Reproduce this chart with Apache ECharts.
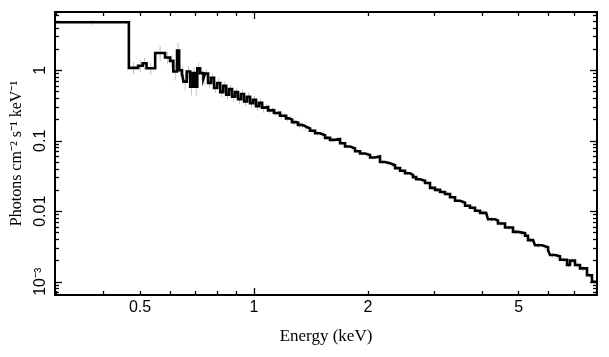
<!DOCTYPE html>
<html><head><meta charset="utf-8">
<script src="https://cdn.jsdelivr.net/npm/echarts@6/dist/echarts.min.js"></script>
<style>html,body{margin:0;padding:0;background:#fff}#c{width:609px;height:357px}</style>
</head><body><div id="c"></div>
<script>
// ---- data ----
const binEdges = [
  0.298, 0.467, 0.494, 0.508, 0.520, 0.548, 0.582, 0.600, 0.612, 0.626,
  0.634, 0.645, 0.651, 0.664, 0.678, 0.689, 0.699, 0.708, 0.720, 0.735,
  0.742, 0.756, 0.770, 0.784, 0.799, 0.814, 0.829, 0.844, 0.859, 0.875,
  0.891, 0.907, 0.924, 0.941, 0.958, 0.976, 0.994, 1.012, 1.031, 1.050,
  1.069, 1.089, 1.109, 1.129, 1.150, 1.171, 1.193, 1.215, 1.237, 1.260,
  1.283, 1.307, 1.331, 1.355, 1.380, 1.406, 1.449, 1.494, 1.540, 1.587,
  1.636, 1.687, 1.739, 1.793, 1.848, 1.905, 1.964, 2.025, 2.087, 2.151,
  2.218, 2.286, 2.357, 2.430, 2.505, 2.582, 2.630, 2.680, 2.744, 2.829,
  2.916, 3.006, 3.099, 3.194, 3.293, 3.395, 3.500, 3.608, 3.719, 3.834,
  3.953, 4.100, 4.150, 4.330, 4.409, 4.601, 4.830, 4.979, 5.196, 5.291,
  5.455, 5.521, 5.762, 5.976, 6.049, 6.236, 6.428, 6.708, 6.831, 7.042,
  7.259, 7.575, 7.808, 8.05
];
const fluxValues = [
  4.8, 1.08, 1.16, 1.26, 1.07, 1.76, 1.52, 1.36, 0.96, 1.9,
  1.0, 0.91, 0.69, 0.96, 0.585, 0.91, 0.585, 1.07, 0.91, 0.77,
  0.90, 0.66, 0.78, 0.56, 0.66, 0.49, 0.60, 0.45, 0.54, 0.42,
  0.49, 0.39, 0.46, 0.36, 0.42, 0.34, 0.38, 0.31, 0.345, 0.295,
  0.30, 0.27, 0.272, 0.248, 0.25, 0.226, 0.226, 0.208, 0.20, 0.184,
  0.181, 0.168, 0.165, 0.155, 0.150, 0.139, 0.128, 0.120, 0.110, 0.103,
  0.106, 0.092, 0.083, 0.078, 0.071, 0.066, 0.063, 0.058, 0.060, 0.050,
  0.048, 0.045, 0.041, 0.0375, 0.0346, 0.0328, 0.0305, 0.0285, 0.0271, 0.0252,
  0.0215, 0.0201, 0.0188, 0.0176, 0.0158, 0.0141, 0.0133, 0.0120, 0.0112, 0.0102,
  0.0095, 0.0089, 0.0077, 0.0074, 0.0067, 0.0059, 0.0051, 0.0049, 0.0045, 0.0039,
  0.0037, 0.0033, 0.0031, 0.0028, 0.0024, 0.0023, 0.00205, 0.00173, 0.00200, 0.00173,
  0.00155, 0.00124, 0.00100
];
const errFrac = [
  0.08, 0.2, 0.2, 0.2, 0.2, 0.25, 0.2, 0.2, 0.25, 0.3,
  0.2, 0.25, 0.25, 0.2, 0.25, 0.2, 0.25, 0.2, 0.2, 0.2,
  0.15, 0.15, 0.15, 0.15, 0.15, 0.15, 0.15, 0.15, 0.15, 0.15,
  0.15, 0.15, 0.15, 0.15, 0.15, 0.15, 0.15, 0.15, 0.15, 0.15,
  0.1, 0.1, 0.1, 0.1, 0.1, 0.1, 0.1, 0.1, 0.1, 0.1,
  0.1, 0.1, 0.1, 0.1, 0.1, 0.06, 0.06, 0.06, 0.06, 0.06,
  0.06, 0.06, 0.06, 0.06, 0.06, 0.06, 0.06, 0.06, 0.06, 0.06,
  0.06, 0.06, 0.06, 0.06, 0.06, 0.06, 0.06, 0.06, 0.06, 0.06,
  0.06, 0.06, 0.06, 0.06, 0.06, 0.06, 0.06, 0.06, 0.06, 0.06,
  0.08, 0.08, 0.08, 0.08, 0.08, 0.08, 0.08, 0.08, 0.08, 0.08,
  0.08, 0.08, 0.08, 0.08, 0.08, 0.08, 0.08, 0.08, 0.08, 0.08,
  0.08, 0.08, 0.08
];
const xRange = [0.298, 8.05];
const yRange = [6.5e-4, 6.7];
const xTickValues = [0.5, 1, 2, 5];
const xTickLabels = ['0.5', '1', '2', '5'];
const xMajorTicks = [1];
const xMinorTicks = [0.3, 0.4, 0.5, 0.6, 0.7, 0.8, 0.9, 2, 3, 4, 5, 6, 7, 8];
const yTickValues = [0.001, 0.01, 0.1, 1];
const yTickLabels = ['10⁻³', '0.01', '0.1', '1'];
const yMajorTicks = [0.001, 0.01, 0.1, 1];
const yMinorTicks = [7e-4, 8e-4, 9e-4, 0.002, 0.003, 0.004, 0.005, 0.006, 0.007, 0.008, 0.009,
  0.02, 0.03, 0.04, 0.05, 0.06, 0.07, 0.08, 0.09, 0.2, 0.3, 0.4, 0.5, 0.6, 0.7, 0.8, 0.9,
  2, 3, 4, 5, 6];
const xTitle = 'Energy (keV)';
const yTitle = 'Photons cm⁻² s⁻¹ keV⁻¹';

// ---- build ----
const N = fluxValues.length;
if (binEdges.length !== N + 1 || errFrac.length !== N) console.error('length mismatch');
const stepData = [];
for (let i = 0; i < N; i++) stepData.push([binEdges[i], fluxValues[i]]);
stepData.push([binEdges[N], fluxValues[N - 1]]);
const errData = [];
for (let i = 0; i < N; i++) {
  const c = Math.sqrt(binEdges[i] * binEdges[i + 1]);
  errData.push([c, fluxValues[i] * (1 - errFrac[i]), fluxValues[i] * (1 + errFrac[i])]);
}
const L = v => Math.log10(v);
const sansFont = "'Liberation Sans', Arial, Helvetica, sans-serif";
const serifFont = "'Liberation Serif', 'Times New Roman', serif";
const black = '#000';

function labelFor(vals, labs) {
  return function (v) {
    let best = 0, bd = Infinity;
    vals.forEach((t, i) => { const d = Math.abs(L(t) - v); if (d < bd) { bd = d; best = i; } });
    return labs[best];
  };
}
function tickAxis(dir, pos, ticks, len, opts) {
  const range = dir === 'x' ? xRange : yRange;
  const a = {
    type: 'value', position: pos, min: L(range[0]), max: L(range[1]),
    axisLine: { show: false, onZero: false },
    splitLine: { show: false },
    axisTick: { show: true, inside: true, length: len, customValues: ticks.map(L),
      lineStyle: { color: black, width: 1.3 } },
    axisLabel: { show: false },
    z: 5
  };
  return Object.assign(a, opts || {});
}

const xLabelOpts = {
  axisLabel: { show: true, customValues: xTickValues.map(L), formatter: labelFor(xTickValues, xTickLabels),
    color: black, fontFamily: sansFont, fontSize: 16, margin: 5 },
  name: xTitle, nameLocation: 'middle', nameGap: 42,
  nameTextStyle: { color: black, fontFamily: serifFont, fontSize: 17, verticalAlign: 'middle' }
};
const yLabelOpts = {
  axisLabel: { show: true, customValues: yTickValues.map(L), formatter: labelFor(yTickValues, yTickLabels),
    rotate: 90, color: black, fontFamily: sansFont, fontSize: 16, margin: 6 },
  name: yTitle, nameLocation: 'middle', nameGap: 35, nameRotate: 90,
  nameTextStyle: { color: black, fontFamily: serifFont, fontSize: 16, verticalAlign: 'middle' }
};

const option = {
  animation: false,
  backgroundColor: '#fff',
  grid: { left: 55, right: 12, top: 12, bottom: 62, containLabel: false },
  xAxis: [
    { type: 'log', logBase: 10, min: xRange[0], max: xRange[1], position: 'bottom',
      axisLine: { show: true, onZero: false, lineStyle: { color: black, width: 2 } },
      axisTick: { show: false }, axisLabel: { show: false }, splitLine: { show: false }, z: 6 },
    tickAxis('x', 'bottom', xMajorTicks, 7, xLabelOpts),
    tickAxis('x', 'bottom', xMinorTicks, 4),
    tickAxis('x', 'top', xMajorTicks, 7, { axisLine: { show: true, onZero: false, lineStyle: { color: black, width: 2 } } }),
    tickAxis('x', 'top', xMinorTicks, 4)
  ],
  yAxis: [
    { type: 'log', logBase: 10, min: yRange[0], max: yRange[1], position: 'left',
      axisLine: { show: true, onZero: false, lineStyle: { color: black, width: 2 } },
      axisTick: { show: false }, axisLabel: { show: false }, splitLine: { show: false }, z: 6 },
    tickAxis('y', 'left', yMajorTicks, 7, yLabelOpts),
    tickAxis('y', 'left', yMinorTicks, 4),
    tickAxis('y', 'right', yMajorTicks, 7, { axisLine: { show: true, onZero: false, lineStyle: { color: black, width: 2 } } }),
    tickAxis('y', 'right', yMinorTicks, 4)
  ],
  series: [
    {
      type: 'custom', xAxisIndex: 0, yAxisIndex: 0, clip: true, silent: true, z: 1,
      data: errData,
      renderItem: function (params, api) {
        const p1 = api.coord([api.value(0), api.value(1)]);
        const p2 = api.coord([api.value(0), api.value(2)]);
        return { type: 'line', shape: { x1: p1[0], y1: p1[1], x2: p2[0], y2: p2[1] },
          style: { stroke: '#c4c4c4', lineWidth: 1 } };
      }
    },
    {
      type: 'line', xAxisIndex: 0, yAxisIndex: 0, step: 'end', data: stepData,
      showSymbol: false, symbol: 'none', clip: true, z: 3,
      lineStyle: { color: black, width: 2.6, join: 'miter' }
    }
  ]
};
const chart = echarts.init(document.getElementById('c'), null, { renderer: 'canvas' });
chart.setOption(option);
</script></body></html>
